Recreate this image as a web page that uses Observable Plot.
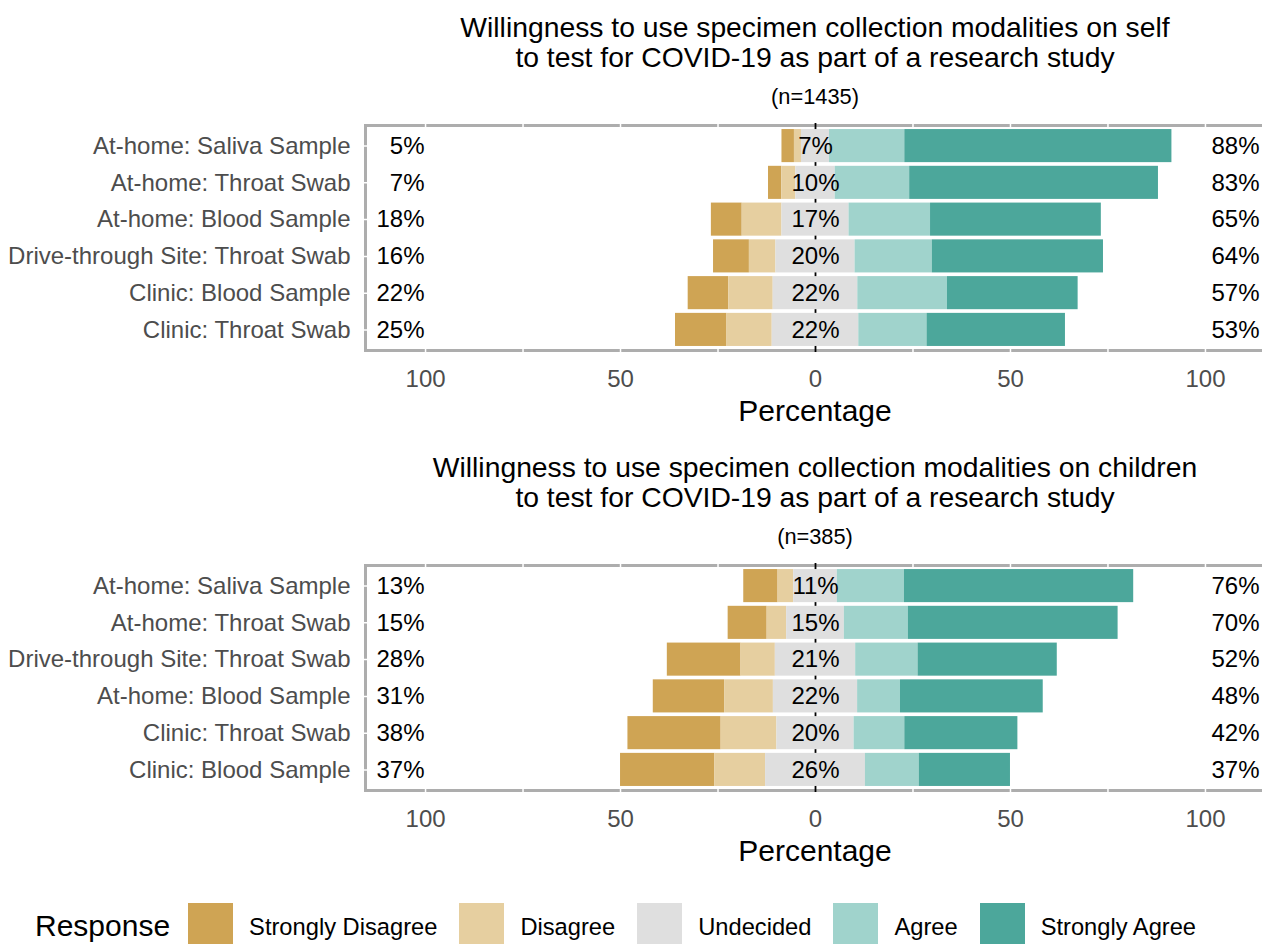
<!DOCTYPE html>
<html>
<head>
<meta charset="utf-8">
<script src="https://cdn.jsdelivr.net/npm/d3@7"></script>
<script src="https://cdn.jsdelivr.net/npm/@observablehq/plot@0.6"></script>
<style>
html, body { margin: 0; padding: 0; background: #fff; overflow: hidden; }
#root { position: relative; width: 1262px; height: 944px; overflow: hidden; font-family: "Liberation Sans", Arial, sans-serif; }
.t { position: absolute; left: 365px; width: 900px; text-align: center; color: #000; white-space: nowrap; }
.title { font-size: 28.3px; line-height: 30px; }
.sub { font-size: 21.8px; line-height: 22px; }
.xlab { font-size: 30px; line-height: 30px; }
.panel { position: absolute; left: 0; width: 1262px; }
#legend { position: absolute; left: 35px; top: 903px; height: 45px; display: flex; align-items: center; color: #000; white-space: nowrap; }
#legend .ltitle { font-size: 30px; margin-right: 18px; position: relative; top: 0px; }
#legend .sw { width: 45px; height: 45px; margin-right: 16px; flex: none; }
#legend .lab { font-size: 23.7px; margin-right: 22px; position: relative; top: 2px; }
</style>
</head>
<body>
<div id="root">
  <div class="t title" style="top:12px">Willingness to use specimen collection modalities on self<br>to test for COVID-19 as part of a research study</div>
  <div class="t sub" style="top:85.5px">(n=1435)</div>
  <div class="panel" id="p1" style="top:110px"></div>
  <div class="t xlab" style="top:395.6px">Percentage</div>

  <div class="t title" style="top:452px">Willingness to use specimen collection modalities on children<br>to test for COVID-19 as part of a research study</div>
  <div class="t sub" style="top:525.5px">(n=385)</div>
  <div class="panel" id="p2" style="top:550px"></div>
  <div class="t xlab" style="top:835.6px">Percentage</div>

  <div id="legend"></div>
</div>
<script>
// ---- Data ----
const responses = ["Strongly Disagree", "Disagree", "Undecided", "Agree", "Strongly Agree"];
const responseColors = ["#CFA454", "#E6CFA0", "#DFDFDF", "#A0D3CC", "#4CA79B"];

const tickValues = [-100, -50, 0, 50, 100];
const gridBreaks = [-100, -75, -50, -25, 25, 50, 75, 100];
const labelPos = 100;

// Panel 1: self (n=1435)
const selfItems = ["At-home: Saliva Sample", "At-home: Throat Swab", "At-home: Blood Sample",
  "Drive-through Site: Throat Swab", "Clinic: Blood Sample", "Clinic: Throat Swab"];
const selfSD = [3.2, 3.4, 7.9, 9.2, 10.4, 13.2];
const selfD  = [1.8, 3.6, 10.2, 6.8, 11.4, 11.6];
const selfN  = [7.2, 10.1, 17.2, 20.3, 21.7, 22.2];
const selfA  = [19.3, 19.1, 20.9, 19.8, 23.0, 17.5];
const selfSA = [68.5, 63.8, 43.8, 43.9, 33.5, 35.5];

// Panel 2: children (n=385)
const childItems = ["At-home: Saliva Sample", "At-home: Throat Swab", "Drive-through Site: Throat Swab",
  "At-home: Blood Sample", "Clinic: Throat Swab", "Clinic: Blood Sample"];
const childSD = [8.8, 10.0, 18.9, 18.3, 23.9, 24.2];
const childD  = [4.0, 5.0, 8.8, 12.5, 14.3, 13.0];
const childN  = [11.2, 14.8, 20.6, 21.6, 19.8, 25.6];
const childA  = [17.2, 16.4, 16.0, 11.0, 13.0, 13.8];
const childSA = [58.8, 53.8, 35.7, 36.6, 29.0, 23.4];

// ---- Build tables ----
function buildRows(items, series) {
  const segs = [], summary = [];
  items.forEach((item, i) => {
    const vals = series.map(s => s[i]);
    let start = -(vals[0] + vals[1] + vals[2] / 2);
    vals.forEach((v, k) => {
      segs.push({item, response: responses[k], x1: start, x2: start + v});
      start += v;
    });
    summary.push({
      item,
      low: Math.round(vals[0] + vals[1]),
      neutral: Math.round(vals[2]),
      high: Math.round(vals[3] + vals[4])
    });
  });
  return {segs, summary};
}

function panel(items, series) {
  const {segs, summary} = buildRows(items, series);
  return Plot.plot({
    width: 1262,
    height: 292,
    marginLeft: 365,
    marginRight: -3,
    marginTop: 15,
    marginBottom: 52,
    style: {fontFamily: '"Liberation Sans", Arial, sans-serif', background: "transparent", maxWidth: "none", overflow: "hidden"},
    x: {domain: [-115.4, 115.4]},
    y: {domain: items, paddingInner: 0.1, paddingOuter: 0.11, round: false},
    color: {domain: responses, range: responseColors},
    marks: [
      Plot.frame({stroke: "#ADADAD", strokeWidth: 3}),
      Plot.gridX({ticks: gridBreaks, stroke: "#ffffff", strokeOpacity: 1, strokeWidth: 1.5, insetTop: -2, insetBottom: -2}),
      Plot.gridY({stroke: "#ffffff", strokeOpacity: 1, strokeWidth: 1.5, insetLeft: -2, insetRight: -2}),
      Plot.gridX({ticks: [0], stroke: "#000000", strokeOpacity: 1, strokeWidth: 1.8, insetTop: -2, insetBottom: -2}),
      Plot.barX(segs, {x1: "x1", x2: "x2", y: "item", fill: "response"}),
      Plot.text(summary, {x: () => 0, y: "item", text: d => d.neutral + "%", fontSize: 24, fill: "#000"}),
      Plot.text(summary, {x: () => -labelPos, y: "item", text: d => d.low + "%", textAnchor: "end", dx: -1, fontSize: 24, fill: "#000"}),
      Plot.text(summary, {x: () => labelPos, y: "item", text: d => d.high + "%", textAnchor: "start", dx: 6, fontSize: 24, fill: "#000"}),
      Plot.axisX({ticks: tickValues, tickFormat: d => String(Math.abs(d)), tickSize: 0, tickPadding: 19, fontSize: 24, color: "#4D4D4D", label: null}),
      Plot.axisY({tickSize: 0, tickPadding: 15, fontSize: 24, color: "#4D4D4D", label: null})
    ]
  });
}

document.getElementById("p1").appendChild(panel(selfItems, [selfSD, selfD, selfN, selfA, selfSA]));
document.getElementById("p2").appendChild(panel(childItems, [childSD, childD, childN, childA, childSA]));

// ---- Legend ----
const legend = document.getElementById("legend");
const lt = document.createElement("span");
lt.className = "ltitle";
lt.textContent = "Response";
legend.appendChild(lt);
responses.forEach((r, i) => {
  const sw = document.createElement("span");
  sw.className = "sw";
  sw.style.background = responseColors[i];
  legend.appendChild(sw);
  const lab = document.createElement("span");
  lab.className = "lab";
  lab.textContent = r;
  legend.appendChild(lab);
});
</script>
</body>
</html>
